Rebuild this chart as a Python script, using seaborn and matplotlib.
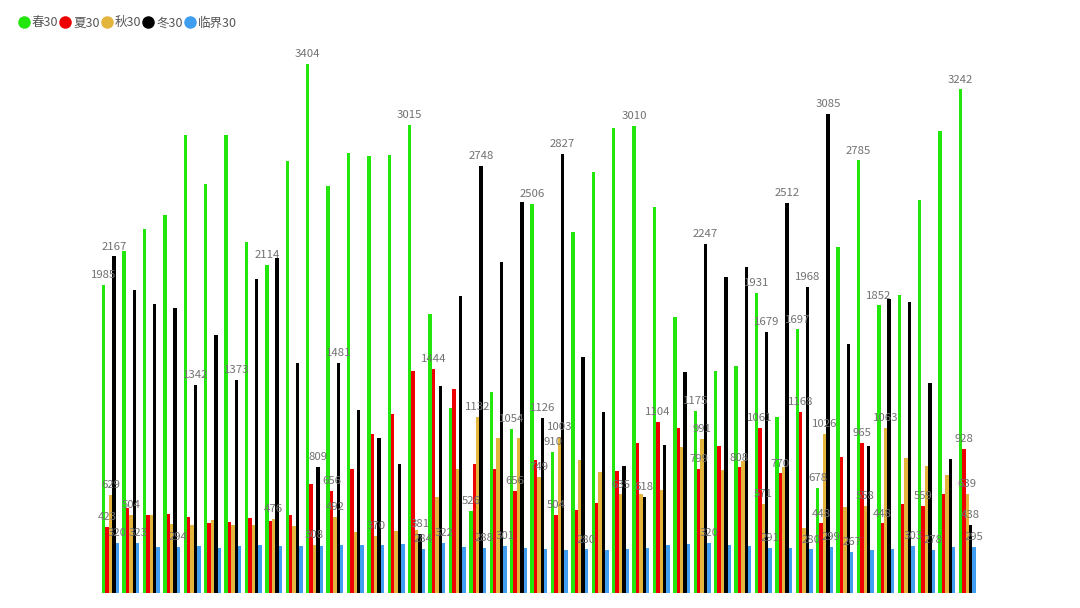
import matplotlib
matplotlib.use("Agg")
from matplotlib import pyplot as plt
from matplotlib.lines import Line2D
import pandas as pd
import seaborn as sns

# series names and colours (legend order)
series = ["春30", "夏30", "秋30", "冬30", "临界30"]
colors = ["#22e60c", "#ee0000", "#e3b53c", "#000000", "#3f9ef0"]

# 43 categories, axis labels are hidden in the original
categories = [str(i + 1) for i in range(43)]

spring = [1985, 2200, 2344, 2432, 2949, 2636, 2947, 2260, 2114, 2784, 3404, 2623, 2833, 2812,
          2819, 3015, 1797, 1191, 526, 1292, 1054, 2506, 910, 2327, 2709, 2997, 3010, 2488,
          1777, 1175, 1430, 1460, 1931, 1135, 1697, 678, 2230, 2785, 1852, 1917, 2531, 2977, 3242]
summer = [423, 545, 505, 509, 487, 449, 455, 483, 462, 502, 702, 656, 797, 1024,
          1151, 1432, 1444, 1312, 829, 797, 656, 855, 504, 535, 580, 786, 966, 1104,
          1065, 799, 949, 808, 1061, 770, 1168, 448, 874, 965, 448, 571, 559, 640, 928]
autumn = [629, 504, 500, 447, 436, 472, 438, 440, 476, 434, 308, 492, 391, 370,
          397, 405, 616, 799, 1132, 1000, 996, 749, 1003, 859, 781, 635, 638, 666,
          938, 991, 794, 852, 571, 811, 419, 1026, 552, 558, 1063, 870, 816, 758, 639]
winter = [2167, 1949, 1863, 1837, 1342, 1662, 1373, 2022, 2157, 1483, 809, 1481, 1178, 998,
          833, 381, 1335, 1911, 2748, 2129, 2520, 1126, 2827, 1518, 1168, 816, 618, 953,
          1423, 2247, 2033, 2098, 1679, 2512, 1968, 3085, 1602, 945, 1895, 1874, 1355, 863, 438]
critical = [320, 323, 298, 294, 303, 292, 301, 311, 305, 305, 301, 307, 311, 311,
            316, 284, 322, 298, 288, 301, 292, 286, 279, 280, 279, 283, 290, 307,
            313, 320, 311, 305, 291, 292, 280, 299, 267, 279, 283, 303, 278, 296, 295]

# value labels that survive the overlap hiding in the original (category index per series)
shown = {
    "春30": [0, 8, 10, 15, 18, 20, 21, 22, 26, 29, 32, 34, 35, 37, 38, 42],
    "夏30": [0, 11, 16, 20, 22, 27, 29, 31, 32, 33, 34, 35, 37, 38, 40, 42],
    "秋30": [0, 1, 8, 10, 11, 13, 18, 21, 22, 25, 29, 32, 35, 37, 38, 42],
    "冬30": [0, 4, 6, 10, 11, 15, 18, 21, 22, 26, 29, 32, 33, 34, 35, 42],
    "临界30": [0, 1, 3, 15, 16, 18, 19, 23, 29, 32, 34, 35, 36, 39, 40, 42],
}

values = [spring, summer, autumn, winter, critical]
df = pd.concat([pd.DataFrame({"cat": categories, "series": s, "value": v})
                for s, v in zip(series, values)], ignore_index=True)

sns.set_theme(style="white")
plt.rcParams["font.family"] = ["Noto Sans CJK SC", "DejaVu Sans"]

fig = plt.figure(figsize=(10.8, 6.08), dpi=100)
ax = fig.add_axes([0.0929, 0.0247, 0.8122, 0.894])

sns.barplot(data=df, x="cat", y="value", hue="series", hue_order=series,
            order=categories, palette=colors, saturation=1, width=0.83,
            errorbar=None, legend=False, ax=ax, linewidth=0)

ax.set_xlim(-0.5, len(categories) - 0.5)
ax.set_ylim(0, 3500)
ax.set_axis_off()

# value labels on top of the bars
for s, v, cont in zip(series, values, ax.containers):
    labels = [str(val) if i in shown[s] else "" for i, val in enumerate(v)]
    ax.bar_label(cont, labels=labels, padding=3.5, fontsize=8.2, color="#727272")

handles = [Line2D([0], [0], marker="o", linestyle="", markersize=8,
                  markerfacecolor=c, markeredgecolor=c) for c in colors]
fig.legend(handles, series, loc="upper left", bbox_to_anchor=(0.018, 0.973),
           ncol=5, frameon=False, fontsize=9, handlelength=0.7, handletextpad=0.3,
           columnspacing=0.2, borderpad=0, borderaxespad=0, labelcolor="#555555")

fig.savefig("out.png", dpi=100)
